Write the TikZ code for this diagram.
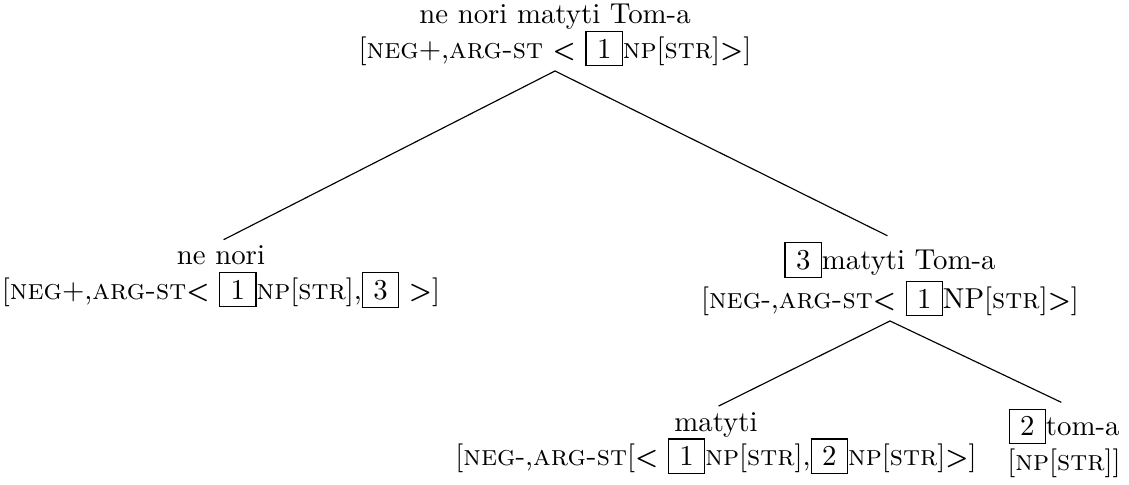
\documentclass[tikz,border=0pt]{standalone}
\usepackage{fontspec}
% boxed tag numbers
\newcommand\bx[1]{{\setlength\fboxsep{2.4pt}\setlength\fboxrule{0.4pt}\fbox{\kern1.2pt#1\kern1.2pt}}}
% angle brackets of the ARG-ST list
\newcommand\lt{{\small\textsf{\textbf{<}}}}
\newcommand\gt{{\small\textsf{\textbf{>}}}}
\begin{document}
\begin{tikzpicture}[x=0.3472pt,y=-0.3472pt,
  tnode/.style={align=center, inner sep=1.5pt},
  branch/.style={line width=0.4pt, shorten >=1pt}]
\useasboundingbox (0,0) rectangle (1129,484);
\node[tnode] (root) at (555,35)
  {ne nori matyti Tom-a\\
   {[}\textsc{neg}$+$,\textsc{arg-st} \lt\ \bx{1}\textsc{np}[\textsc{str}]\gt]};
\node[tnode] (left) at (221,277)
  {ne nori\\
   {[}\textsc{neg}$+$,\textsc{arg-st}\lt\ \bx{1}\textsc{np}[\textsc{str}],\bx{3} \gt]};
\node[tnode] (right) at (890,279)
  {\bx{3}matyti Tom-a\\
   {[}\textsc{neg}-,\textsc{arg-st}\lt\ \bx{1}NP[\textsc{str}]\gt]};
\node[tnode] (bl) at (716,443)
  {matyti\\
   {[}\textsc{neg}-,\textsc{arg-st}[\lt\ \bx{1}\textsc{np}[\textsc{str}],\bx{2}\textsc{np}[\textsc{str}]\gt]};
\node[tnode] (br) at (1064,443)
  {\bx{2}tom-a\\
   {[}\textsc{np}[\textsc{str}]]};
\draw[branch] (root.south) -- (left.north);
\draw[branch] (root.south) -- (right.north);
\draw[branch] (right.south) -- (bl.north);
\draw[branch] (right.south) -- (br.north);
\end{tikzpicture}
\end{document}
